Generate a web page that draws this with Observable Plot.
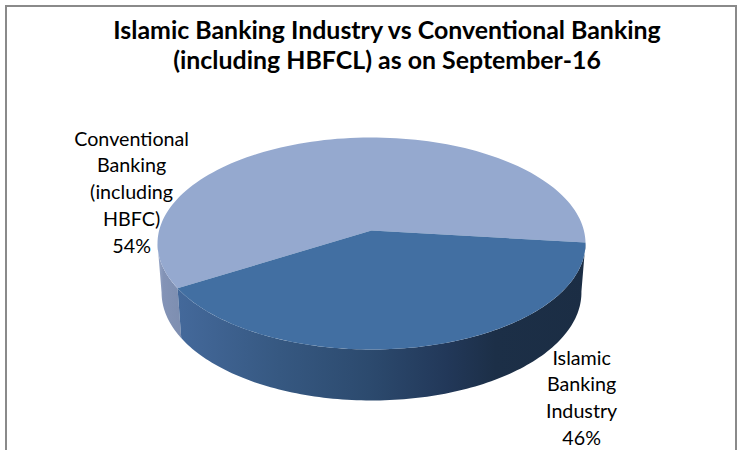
<!DOCTYPE html>
<html>
<head>
<meta charset="utf-8">
<script src="https://cdn.jsdelivr.net/npm/d3@7"></script>
<script src="https://cdn.jsdelivr.net/npm/@observablehq/plot@0.6"></script>
<style>
  html, body { margin: 0; padding: 0; background: #fff; overflow: hidden; }
  #page { position: relative; width: 741px; height: 450px; overflow: hidden; }
  #border { position: absolute; left: 5px; top: 5px; width: 728px; height: 445px;
            border: 2px solid #8a8a8a; border-bottom: none; pointer-events: none; }
  #title { height: 82px; box-sizing: border-box; padding: 15px 0 0 33px; text-align: center;
           font: bold 24.9px/29.5px Lato, sans-serif; color: #000; white-space: nowrap; }
  #chart svg { display: block; }
</style>
</head>
<body>
<div id="page">
  <div id="title"></div>
  <div id="chart"></div>
  <div id="border"></div>
</div>
<script>
// Shares of the banking industry
const titleLines = ["Islamic Banking Industry vs Conventional Banking", "(including HBFCL) as on September-16"];
const categories = ["Islamic Banking Industry", "Conventional Banking (including HBFC)"];
const shares = [46, 54];
const labelLines = [["Islamic", "Banking", "Industry"], ["Conventional", "Banking", "(including", "HBFC)"]];
const labelX = [0.982, -1.121];
const labelY = [1.44, -0.50];

// Pie geometry, in units of the disc's radii
const startAngle = -5.55;     // degrees, where the Islamic slice begins on the right
const foreshorten = 5.09;     // degrees of squeeze applied around the front of the tilted disc
const apexY = -0.123;         // the hub sits above the ellipse centre under perspective
const base = {rx: 0.981, ry: 1.019, cy: 0.462}; // lower rim of the disc

// Colours
const topColors = ["#426fa2", "#95a9cf"];
const frontStops = [[0, "#44699b"], [0.25, "#365881"], [0.47, "#2c4a6e"], [0.66, "#223859"], [0.78, "#1c2f47"], [1, "#1b2d44"]];
const backStops = [[0, "#9aa9c9"], [0.25, "#8393b6"], [1, "#7d8eb0"]];

document.getElementById("title").innerHTML = titleLines.map(t => `<div>${t}</div>`).join("");

const deg = Math.PI / 180;
const total = d3.sum(shares);
const sweep = shares[0] / total * 360;
const frontMid = startAngle + sweep / 2;
// Turns a pie angle into an angle around the drawn ellipse
const warp = a => a - foreshorten * Math.sin((a - frontMid) * deg);
const steps = (a0, a1) => d3.range(0, 121).map(i => warp(a0 + (a1 - a0) * i / 120));
const rim = a => ({x: Math.cos(a * deg), y: Math.sin(a * deg)});
const lowerRim = a => ({x: base.rx * Math.cos(a * deg), y: base.cy + base.ry * Math.sin(a * deg)});

const islamicEnd = startAngle + sweep;
const wedges = [
  {slice: "islamic", a0: startAngle, a1: islamicEnd},
  {slice: "conventional", a0: islamicEnd, a1: startAngle + 360}
];

const topFaces = wedges.flatMap(w => [
  {slice: w.slice, x: 0, y: apexY},
  ...steps(w.a0, w.a1).map(a => ({slice: w.slice, ...rim(a)}))
]);

// Only the part of the wall facing the viewer is visible, up to the left-most point of the rim
const wallEnd = warp(islamicEnd);
const wallAngles = (p0, p1) => d3.range(0, 121).map(i => p0 + (p1 - p0) * i / 120);
const wall = (slice, p0, p1) => {
  const angles = wallAngles(p0, p1);
  return [
    ...angles.map(a => ({slice, ...rim(a)})),
    ...angles.reverse().map(a => ({slice, ...lowerRim(a)}))
  ];
};
const frontWall = wall("islamic", warp(startAngle), wallEnd);
const backWall = wall("conventional", wallEnd, 180);

const labels = categories.map((c, i) => ({
  text: [...labelLines[i], `${shares[i]}%`].join("\n"),
  x: labelX[i],
  y: labelY[i]
}));

function gradient(defs, id, stops) {
  const g = defs.append("linearGradient").attr("id", id).attr("x1", 0).attr("x2", 1).attr("y1", 0).attr("y2", 0);
  stops.forEach(([o, c]) => g.append("stop").attr("offset", o).attr("stop-color", c));
}
const gradients = () => {
  const defs = d3.create("svg:defs");
  gradient(defs, "wallFront", frontStops);
  gradient(defs, "wallBack", backStops);
  return defs.node();
};

const chart = Plot.plot({
  width: 741,
  height: 368,
  margin: 0,
  x: {domain: [-1, 1], range: [157, 585], axis: null},
  y: {domain: [-1, 1], range: [55, 267], axis: null},
  marks: [
    gradients,
    Plot.line(backWall, {x: "x", y: "y", fill: "url(#wallBack)", stroke: "none"}),
    Plot.line(frontWall, {x: "x", y: "y", fill: "url(#wallFront)", stroke: "none"}),
    Plot.line(topFaces.filter(d => d.slice === "conventional"), {x: "x", y: "y", fill: topColors[1], stroke: "none"}),
    Plot.line(topFaces.filter(d => d.slice === "islamic"), {x: "x", y: "y", fill: topColors[0], stroke: "none"}),
    Plot.text(labels, {
      x: "x", y: "y", text: "text",
      fontFamily: "Lato, sans-serif", fontSize: 19.7, lineHeight: 1.36, fill: "#000"
    })
  ]
});
document.getElementById("chart").appendChild(chart);
</script>
</body>
</html>
